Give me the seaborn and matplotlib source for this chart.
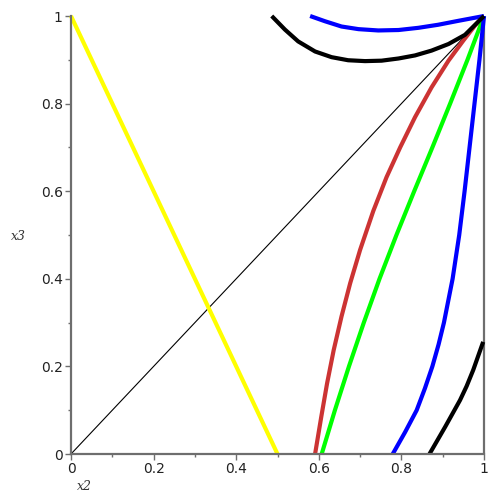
import matplotlib
matplotlib.use("Agg")
import matplotlib.pyplot as plt
import seaborn as sns
import pandas as pd
from matplotlib.ticker import MultipleLocator

sns.set_style("ticks")
plt.rcParams['font.family'] = ['DejaVu Sans']

# ---- data ----
yellow_x = [0.0, 0.5]
yellow_y = [1.0, 0.0]

diag_x = [0.0, 1.0]
diag_y = [0.0, 1.0]

vert_x = [1.0, 1.0]
vert_y = [0.0, 1.0]

red_x = [0.591, 0.606, 0.620, 0.636, 0.655, 0.676, 0.700, 0.732, 0.764,
         0.797, 0.833, 0.873, 0.914, 0.950, 0.978, 1.0]
red_y = [0.0, 0.085, 0.161, 0.237, 0.314, 0.390, 0.466, 0.555, 0.632,
         0.700, 0.769, 0.837, 0.898, 0.944, 0.978, 1.0]

green_x = [0.607, 0.639, 0.673, 0.709, 0.747, 0.788, 0.831, 0.875, 0.918,
           0.960, 1.0]
green_y = [0.0, 0.1, 0.2, 0.3, 0.4, 0.5, 0.6, 0.7, 0.8, 0.9, 1.0]

blue_x = [0.779, 0.809, 0.837, 0.857, 0.875, 0.890, 0.903, 0.924, 0.940,
          0.953, 0.965, 0.977, 0.989, 1.0]
blue_y = [0.0, 0.05, 0.1, 0.15, 0.2, 0.25, 0.3, 0.4, 0.5,
          0.6, 0.7, 0.8, 0.9, 1.0]

black_x = [0.868, 0.906, 0.942, 0.958, 0.974, 0.998]
black_y = [0.0, 0.062, 0.123, 0.155, 0.192, 0.256]

topblue_x = [0.579, 0.615, 0.655, 0.696, 0.744, 0.793, 0.841, 0.889, 0.938, 1.0]
topblue_y = [1.0, 0.988, 0.976, 0.970, 0.967, 0.968, 0.973, 0.980, 0.989, 1.0]

topblack_x = [0.486, 0.518, 0.550, 0.591, 0.631, 0.671, 0.712, 0.752, 0.793,
              0.833, 0.873, 0.914, 0.954, 1.0]
topblack_y = [1.0, 0.969, 0.942, 0.919, 0.906, 0.899, 0.897, 0.898, 0.903,
              0.910, 0.921, 0.936, 0.957, 1.0]

x_ticks = [0, 0.2, 0.4, 0.6, 0.8, 1]
x_ticklabels = ["0", "0.2", "0.4", "0.6", "0.8", "1"]
y_ticks = [0, 0.2, 0.4, 0.6, 0.8, 1]
y_ticklabels = ["0", "0.2", "0.4", "0.6", "0.8", "1"]

fig = plt.figure(figsize=(5, 5), dpi=100)
ax = fig.add_axes([0.142, 0.092, 0.826, 0.876])

def draw(xs, ys, color, lw):
    df = pd.DataFrame({"x": xs, "y": ys})
    sns.lineplot(data=df, x="x", y="y", sort=False, estimator=None,
                 color=color, linewidth=lw, ax=ax, clip_on=False,
                 solid_capstyle="butt", solid_joinstyle="round")

draw(vert_x, vert_y, "#6e6e6e", 1.6)
draw(diag_x, diag_y, "black", 0.8)
draw(yellow_x, yellow_y, "#ffff00", 3.0)
draw(red_x, red_y, "#cc3333", 3.0)
draw(green_x, green_y, "#00ff00", 3.0)
draw(blue_x, blue_y, "#0000ff", 3.0)
draw(black_x, black_y, "black", 3.0)
draw(topblue_x, topblue_y, "#0000ff", 3.0)
draw(topblack_x, topblack_y, "black", 3.0)

ax.set_xlim(0, 1)
ax.set_ylim(0, 1)
ax.set_xticks(x_ticks)
ax.set_xticklabels(x_ticklabels)
ax.set_yticks(y_ticks)
ax.set_yticklabels(y_ticklabels)
ax.xaxis.set_minor_locator(MultipleLocator(0.1))
ax.yaxis.set_minor_locator(MultipleLocator(0.1))
ax.tick_params(axis="both", which="major", length=4, width=1, color="#6e6e6e",
               labelsize=10, labelcolor="#222222", pad=2)
ax.tick_params(axis="both", which="minor", length=2.5, width=1, color="#6e6e6e")
ax.set_xlabel("")
ax.set_ylabel("")
for s in ["top", "right"]:
    ax.spines[s].set_visible(False)
for s in ["left", "bottom"]:
    ax.spines[s].set_color("#6e6e6e")
    ax.spines[s].set_linewidth(1.6)

fig.text(84 / 500, 1 - 487 / 500, "x2", family="DejaVu Serif", style="italic",
         fontsize=9, color="#333333", ha="center", va="center")
fig.text(18 / 500, 1 - 237 / 500, "x3", family="DejaVu Serif", style="italic",
         fontsize=9, color="#333333", ha="center", va="center")

fig.savefig("out.png", dpi=100)
